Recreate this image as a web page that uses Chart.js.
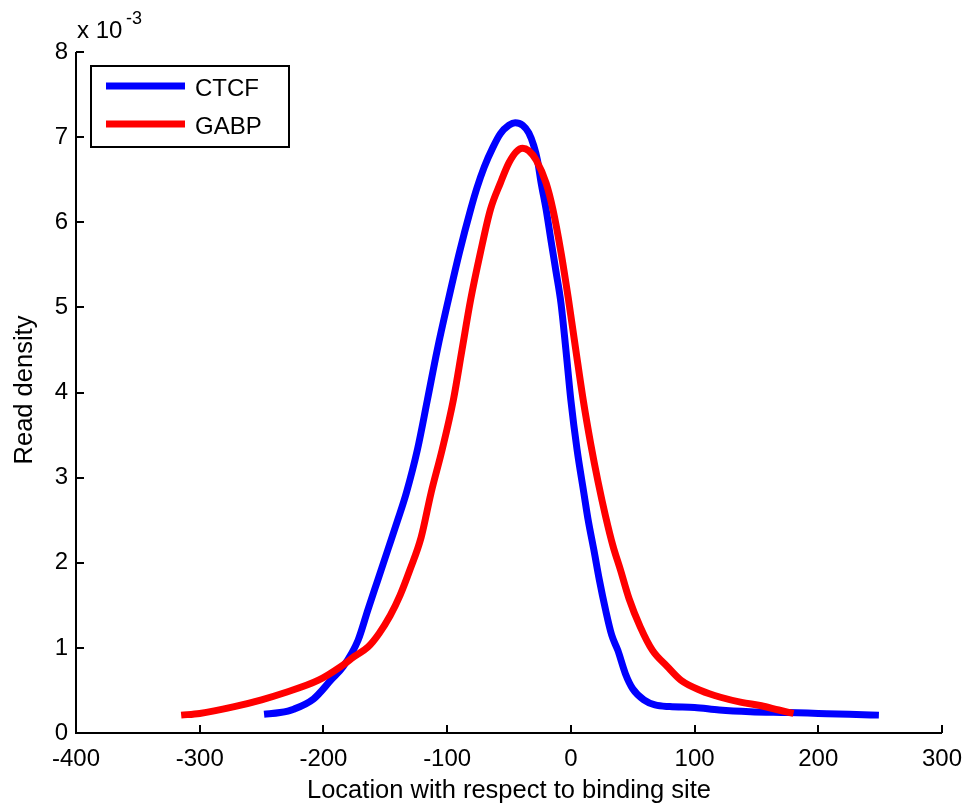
<!DOCTYPE html>
<html>
<head>
<meta charset="utf-8">
<script src="https://cdn.jsdelivr.net/npm/chart.js@4/dist/chart.umd.min.js"></script>
<style>
html,body{margin:0;padding:0;background:#fff;}
#wrap{width:969px;height:808px;position:relative;}
</style>
</head>
<body>
<div id="wrap"><canvas id="c" width="969" height="808"></canvas></div>
<script>
const seriesNames = ["CTCF", "GABP"];
const ctcfX = [-248,-235,-224,-208,-194,-184,-172,-164,-156,-148,-140,-133,-124,-116,-108,-99,-90,-81,-76,-70,-63,-57,-50,-45,-39,-34,-30,-27,-24,-20,-16,-12,-8,-4,0,5,10.5,14,18.6,23,28,33,38,44,50,59,68,80,100,120,145,175,200,225,249];
const ctcfY = [0.22,0.24,0.28,0.4,0.62,0.78,1.09,1.45,1.8,2.15,2.5,2.82,3.33,3.91,4.5,5.09,5.65,6.15,6.4,6.65,6.88,7.04,7.14,7.17,7.14,7.05,6.9,6.73,6.46,6.15,5.78,5.42,5.05,4.5,3.91,3.33,2.82,2.5,2.15,1.8,1.45,1.15,0.97,0.7,0.52,0.39,0.33,0.31,0.3,0.27,0.25,0.24,0.23,0.22,0.21];
const gabpX = [-315,-300,-272,-250,-232,-204,-186,-175,-164,-155,-146,-138,-130,-121,-113,-104,-95,-88,-81,-73,-65,-57,-50,-44,-39,-34,-28,-20,-14.5,-8,-2,4,10,16,22,28,34,40,47,56,66,78,89,105,121,138,154,168,180];
const gabpY = [0.21,0.23,0.31,0.39,0.47,0.62,0.78,0.9,1.01,1.17,1.38,1.62,1.92,2.3,2.82,3.33,3.91,4.5,5.09,5.65,6.15,6.46,6.7,6.83,6.87,6.84,6.73,6.46,6.15,5.65,5.1,4.5,3.91,3.4,2.95,2.55,2.2,1.92,1.58,1.25,0.97,0.78,0.62,0.5,0.42,0.36,0.32,0.27,0.23];
const xTicks = [-400,-300,-200,-100,0,100,200,300];
const yTicks = [0,1,2,3,4,5,6,7,8];
const xTitle = "Location with respect to binding site";
const yTitle = "Read density";
const yExponent = "-3";

const FONT = "'Liberation Sans', Arial, sans-serif";
const toPts = (xs, ys) => xs.map((x, i) => ({x: x, y: ys[i]}));

const decor = {
  id: 'decor',
  afterDraw(chart) {
    const ctx = chart.ctx;
    const xs = chart.scales.x, ys = chart.scales.y;
    const L = chart.chartArea.left, R = chart.chartArea.right, T = chart.chartArea.top, B = chart.chartArea.bottom;
    ctx.save();
    ctx.strokeStyle = '#000';
    ctx.lineWidth = 2;
    ctx.beginPath();
    ctx.moveTo(L, T); ctx.lineTo(L, B); ctx.lineTo(R, B);
    ctx.stroke();
    // inward ticks
    ctx.beginPath();
    xTicks.forEach(v => { const p = Math.round(xs.getPixelForValue(v)); ctx.moveTo(p, B); ctx.lineTo(p, B - 8); });
    yTicks.forEach(v => { const p = Math.round(ys.getPixelForValue(v)); ctx.moveTo(L, p); ctx.lineTo(L + 8, p); });
    ctx.stroke();
    // tick labels
    ctx.fillStyle = '#000';
    ctx.font = '24px ' + FONT;
    ctx.textAlign = 'center'; ctx.textBaseline = 'alphabetic';
    xTicks.forEach(v => ctx.fillText(String(v), xs.getPixelForValue(v), 766));
    ctx.textAlign = 'right'; ctx.textBaseline = 'middle';
    yTicks.forEach(v => ctx.fillText(String(v), L - 8, ys.getPixelForValue(v)));
    // exponent
    ctx.textAlign = 'left'; ctx.textBaseline = 'alphabetic';
    ctx.fillText('x 10', 77, 38);
    ctx.font = '18px ' + FONT;
    ctx.fillText(yExponent, 126, 24);
    // axis titles
    ctx.font = '25.5px ' + FONT;
    ctx.textAlign = 'center'; ctx.textBaseline = 'alphabetic';
    ctx.fillText(xTitle, (L + R) / 2, 798);
    ctx.save();
    ctx.translate(32, 390);
    ctx.rotate(-Math.PI / 2);
    ctx.fillText(yTitle, 0, 0);
    ctx.restore();
    // legend
    ctx.fillStyle = '#fff';
    ctx.fillRect(91, 66, 198, 81);
    ctx.lineWidth = 2;
    ctx.strokeStyle = '#000';
    ctx.strokeRect(91, 66, 198, 81);
    const ds = chart.data.datasets;
    const rows = [86, 124];
    ds.forEach((d, i) => {
      ctx.strokeStyle = d.borderColor;
      ctx.lineWidth = 7;
      ctx.beginPath(); ctx.moveTo(106, rows[i]); ctx.lineTo(185, rows[i]); ctx.stroke();
      ctx.fillStyle = '#000';
      ctx.textAlign = 'left'; ctx.textBaseline = 'middle';
      ctx.font = '24px ' + FONT;
      ctx.fillText(d.label, 195, rows[i] + 3);
    });
    ctx.restore();
  }
};

new Chart(document.getElementById('c'), {
  type: 'line',
  data: {
    datasets: [
      {label: seriesNames[0], data: toPts(ctcfX, ctcfY), borderColor: '#0000ff', borderWidth: 7, pointRadius: 0, cubicInterpolationMode: 'monotone', fill: false, order: 2},
      {label: seriesNames[1], data: toPts(gabpX, gabpY), borderColor: '#ff0000', borderWidth: 7, pointRadius: 0, cubicInterpolationMode: 'monotone', fill: false, order: 1}
    ]
  },
  options: {
    responsive: false,
    animation: false,
    layout: {padding: {left: 0, top: 52, right: 27, bottom: 0}},
    plugins: {legend: {display: false}, tooltip: {enabled: false}},
    scales: {
      x: {type: 'linear', min: -400, max: 300,
          ticks: {display: false, stepSize: 100},
          grid: {display: false, drawTicks: false}, border: {display: false},
          afterFit: s => { s.height = 75; }},
      y: {type: 'linear', min: 0, max: 8,
          ticks: {display: false, stepSize: 1},
          grid: {display: false, drawTicks: false}, border: {display: false},
          afterFit: s => { s.width = 76; }}
    }
  },
  plugins: [decor]
});
</script>
</body>
</html>
